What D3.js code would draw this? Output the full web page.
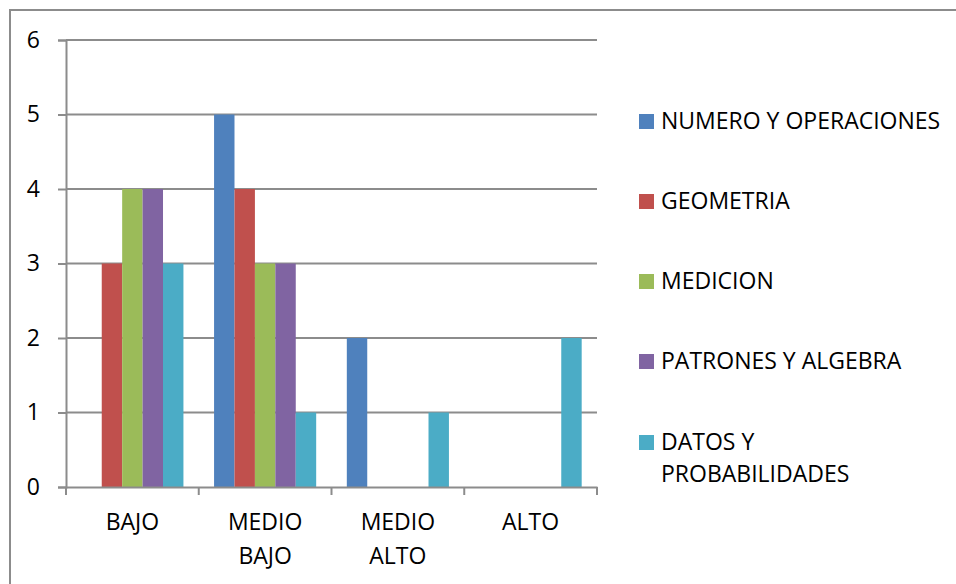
<!DOCTYPE html>
<html>
<head>
<meta charset="utf-8">
<script src="https://cdn.jsdelivr.net/npm/d3@7"></script>
<style>
  html, body { margin: 0; padding: 0; background: #fff; }
  svg { display: block; }
  text { font-family: "Open Sans", "Noto Sans", sans-serif; fill: #000; }
</style>
</head>
<body>
<svg id="chart" width="956" height="584"></svg>
<script>
// Levels on the category axis (each may wrap over two lines)
const categories = ["BAJO", "MEDIO BAJO", "MEDIO ALTO", "ALTO"];
const categoryLines = [["BAJO"], ["MEDIO", "BAJO"], ["MEDIO", "ALTO"], ["ALTO"]];

// One series per area of knowledge
const seriesNames = ["NUMERO Y OPERACIONES", "GEOMETRIA", "MEDICION", "PATRONES Y ALGEBRA", "DATOS Y PROBABILIDADES"];
const legendLines = [["NUMERO Y OPERACIONES"], ["GEOMETRIA"], ["MEDICION"], ["PATRONES Y ALGEBRA"], ["DATOS Y", "PROBABILIDADES"]];
const seriesColors = ["#4f81bd", "#c0504d", "#9bbb59", "#8064a2", "#4bacc6"];

const numeroValues    = [0, 5, 2, 0];
const geometriaValues = [3, 4, 0, 0];
const medicionValues  = [4, 3, 0, 0];
const patronesValues  = [4, 3, 0, 0];
const datosValues     = [3, 1, 1, 2];
const seriesValues = [numeroValues, geometriaValues, medicionValues, patronesValues, datosValues];

const yTicks = [0, 1, 2, 3, 4, 5, 6];

const svg = d3.select("#chart");
const fontSize = 23;

// Outer frame (top and left edges visible)
svg.append("path")
  .attr("d", "M10,600 L10,10 L970,10")
  .attr("fill", "none")
  .attr("stroke", "#8c8c8c")
  .attr("stroke-width", 2);

const plot = { left: 66, right: 597, top: 40, bottom: 487 };

const x0 = d3.scaleBand().domain(categories).range([plot.left, plot.right]).padding(0);
// Excel-style gap width of 150%: bar = band / (n + 1.5)
const barW = x0.bandwidth() / (seriesNames.length + 1.5);
const gap = barW * 0.75;
const x1 = d3.scaleBand().domain(seriesNames).range([gap, x0.bandwidth() - gap]).padding(0);
const y = d3.scaleLinear().domain([0, 6]).range([plot.bottom, plot.top]);

// Gridlines with short outer ticks on the value axis
const yAxis = d3.axisLeft(y).tickValues(yTicks).tickSize(8).tickFormat(d3.format("d")).tickPadding(18);
const yG = svg.append("g").attr("transform", `translate(${plot.left},0)`).call(yAxis);
yG.select(".domain").attr("stroke", "#8c8c8c").attr("stroke-width", 2);
yG.selectAll(".tick line").attr("stroke", "#8c8c8c").attr("stroke-width", 2);
yG.selectAll(".tick text").style("font-size", fontSize + "px").style("font-family", "'Open Sans', sans-serif").attr("fill", "#000");

svg.append("g").selectAll("line.grid")
  .data(yTicks.filter(t => t > 0))
  .join("line")
  .attr("x1", plot.left).attr("x2", plot.right)
  .attr("y1", d => y(d)).attr("y2", d => y(d))
  .attr("stroke", "#8c8c8c").attr("stroke-width", 2);

// Bars
const groups = svg.append("g").selectAll("g")
  .data(categories)
  .join("g")
  .attr("transform", d => `translate(${x0(d)},0)`);

groups.selectAll("rect")
  .data((c, ci) => seriesNames.map((s, si) => ({ s, si, v: seriesValues[si][ci] })))
  .join("rect")
  .attr("x", d => x1(d.s))
  .attr("width", x1.bandwidth())
  .attr("y", d => y(d.v))
  .attr("height", d => y(0) - y(d.v))
  .attr("fill", d => seriesColors[d.si]);

// Category axis
const xAxis = d3.axisBottom(x0).tickSize(0).tickFormat("");
const xG = svg.append("g").attr("transform", `translate(0,${plot.bottom})`).call(xAxis);
xG.select(".domain").attr("stroke", "#8c8c8c").attr("stroke-width", 2);
xG.selectAll(".tick").remove();

const boundaries = categories.map(c => x0(c)).concat([x0(categories[categories.length - 1]) + x0.bandwidth()]);
svg.append("g").selectAll("line")
  .data(boundaries)
  .join("line")
  .attr("x1", d => d).attr("x2", d => d)
  .attr("y1", plot.bottom).attr("y2", plot.bottom + 8)
  .attr("stroke", "#8c8c8c").attr("stroke-width", 2);

const catLabels = svg.append("g").selectAll("text")
  .data(categories)
  .join("text")
  .attr("x", d => x0(d) + x0.bandwidth() / 2)
  .attr("y", 530)
  .attr("text-anchor", "middle")
  .style("font-size", fontSize + "px");
catLabels.each(function(d, i) {
  const t = d3.select(this);
  categoryLines[i].forEach((line, li) => {
    t.append("tspan").attr("x", x0(d) + x0.bandwidth() / 2).attr("dy", li === 0 ? 0 : 34).text(line);
  });
});

// Legend
const legendY = [121, 201, 281, 361, 442];
const legend = svg.append("g").selectAll("g")
  .data(seriesNames)
  .join("g")
  .attr("transform", (d, i) => `translate(639,${legendY[i]})`);
legend.append("rect")
  .attr("x", 0).attr("y", -7).attr("width", 15).attr("height", 15)
  .attr("fill", (d, i) => seriesColors[i]);
legend.append("text")
  .attr("x", 22).attr("y", 8)
  .style("font-size", fontSize + "px")
  .each(function(d, i) {
    const t = d3.select(this);
    legendLines[i].forEach((line, li) => {
      t.append("tspan").attr("x", 22).attr("dy", li === 0 ? 0 : 32).text(line);
    });
  });
</script>
</body>
</html>
